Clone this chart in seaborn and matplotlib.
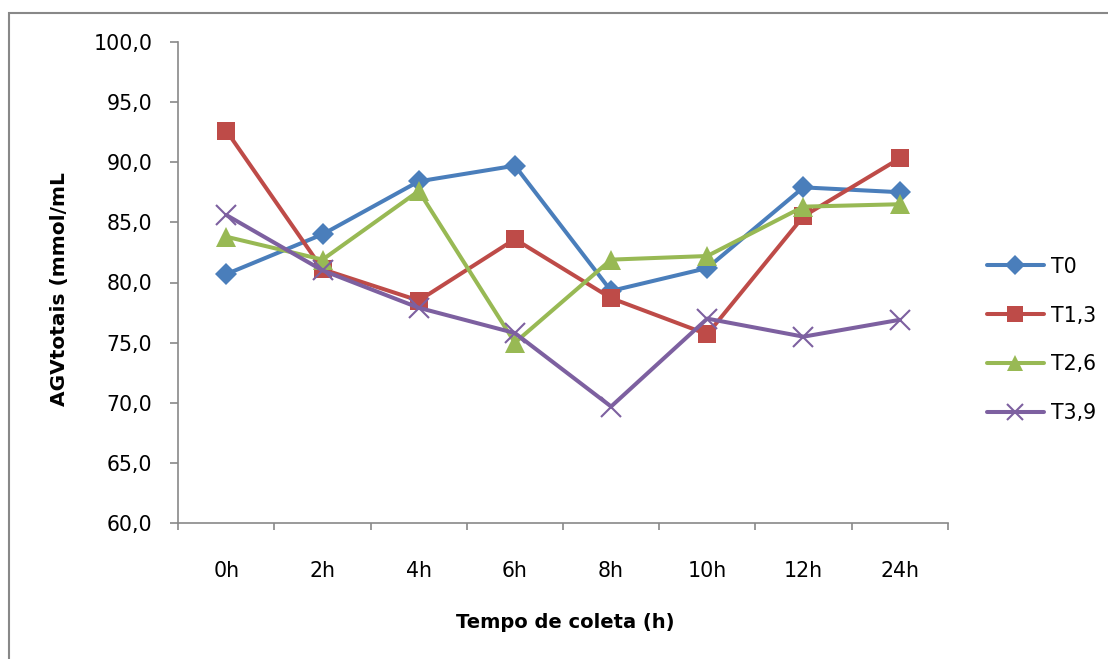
import numpy as np
import pandas as pd
import matplotlib
matplotlib.use("Agg")
import matplotlib.pyplot as plt
from matplotlib.patches import Rectangle
import seaborn as sns

# Sampling times and total VFA concentration per treatment
times = ["0h", "2h", "4h", "6h", "8h", "10h", "12h", "24h"]
t0 = [80.7, 84.0, 88.4, 89.7, 79.3, 81.2, 87.9, 87.5]
t13 = [92.6, 81.1, 78.5, 83.6, 78.7, 75.7, 85.5, 90.3]
t26 = [83.8, 81.9, 87.6, 75.0, 81.9, 82.2, 86.3, 86.5]
t39 = [85.6, 81.0, 77.9, 75.8, 69.7, 77.0, 75.5, 76.9]
series_names = ["T0", "T1,3", "T2,6", "T3,9"]
y_ticks = [60, 65, 70, 75, 80, 85, 90, 95, 100]

sns.set_style("white")
plt.rcParams["font.family"] = ["DejaVu Sans"]
plt.rcParams["text.color"] = "black"
plt.rcParams["xtick.labelcolor"] = "black"
plt.rcParams["ytick.labelcolor"] = "black"

W, H = 1108, 659
fig = plt.figure(figsize=(W / 100, H / 100), dpi=100)

# chart-area frame (only left/top edges fall inside the canvas)
fig.patches.append(Rectangle((9, -20), W + 40, H - 13 + 20, transform=None,
                             fill=False, edgecolor="#888888", linewidth=1.5))

x0, x1, ytop, ybot = 178.3, 947.7, 41.7, 523.3
ax = fig.add_axes([x0 / W, 1 - ybot / H, (x1 - x0) / W, (ybot - ytop) / H])

pos = np.arange(len(times))
df = pd.DataFrame({"pos": np.tile(pos, 4),
                   "valor": t0 + t13 + t26 + t39,
                   "trat": np.repeat(series_names, len(times))})

styles = {
    "T0": dict(color="#4A7EBB", marker="D", markersize=11.5, markeredgewidth=0),
    "T1,3": dict(color="#BE4B48", marker="s", markersize=13.5, markeredgewidth=0),
    "T2,6": dict(color="#98B954", marker="^", markersize=14.0, markeredgewidth=0),
    "T3,9": dict(color="#7D60A0", marker="x", markersize=14.0, markeredgewidth=1.5),
}
for name in series_names:
    sub = df[df["trat"] == name]
    st = styles[name]
    sns.lineplot(data=sub, x="pos", y="valor", ax=ax, color=st["color"],
                 marker=st["marker"], markersize=st["markersize"],
                 markeredgewidth=st["markeredgewidth"],
                 markeredgecolor=st["color"], linewidth=2.9,
                 label=name, sort=False, estimator=None)

ax.set_xlim(-0.5, len(times) - 0.5)
ax.set_ylim(60, 100)

axis_gray = "#898989"
for side in ["top", "right"]:
    ax.spines[side].set_visible(False)
for side in ["left", "bottom"]:
    ax.spines[side].set_color(axis_gray)
    ax.spines[side].set_linewidth(1.2)

# category boundaries carry the tick marks, centres carry the labels
ax.set_xticks(np.arange(-0.5, len(times), 1.0))
ax.set_xticklabels([])
ax.tick_params(axis="x", which="major", direction="out", length=5.2,
               width=1.2, color=axis_gray, bottom=True)
ax.set_xticks(pos, times, minor=True)
ax.tick_params(axis="x", which="minor", length=0, pad=27, labelsize=14.8,
               labelcolor="black")

ax.set_yticks(y_ticks)
ax.set_yticklabels([f"{v:.1f}".replace(".", ",") for v in y_ticks])
ax.tick_params(axis="y", direction="out", length=5.8, width=1.2,
               color=axis_gray, left=True, pad=13, labelsize=14.8,
               labelcolor="black")

ax.set_xlabel("")
ax.set_ylabel("")
fig.text(565 / W, 1 - 622 / H, "Tempo de coleta (h)", fontsize=14,
         fontweight="bold", ha="center", va="center", color="black")
fig.text(60 / W, 1 - 289 / H, "AGVtotais (mmol/mL", fontsize=14.5,
         fontweight="bold", ha="center", va="center", rotation=90,
         color="black")

leg = ax.legend(loc="center left", bbox_to_anchor=(987 / W, 1 - 340 / H),
                bbox_transform=fig.transFigure, frameon=False, fontsize=14.8,
                handlelength=2.75, handletextpad=0.35, labelspacing=1.41,
                borderpad=0, borderaxespad=0, markerscale=0.85)
for t in leg.get_texts():
    t.set_color("black")

fig.savefig("out.png", dpi=100, facecolor="white")
